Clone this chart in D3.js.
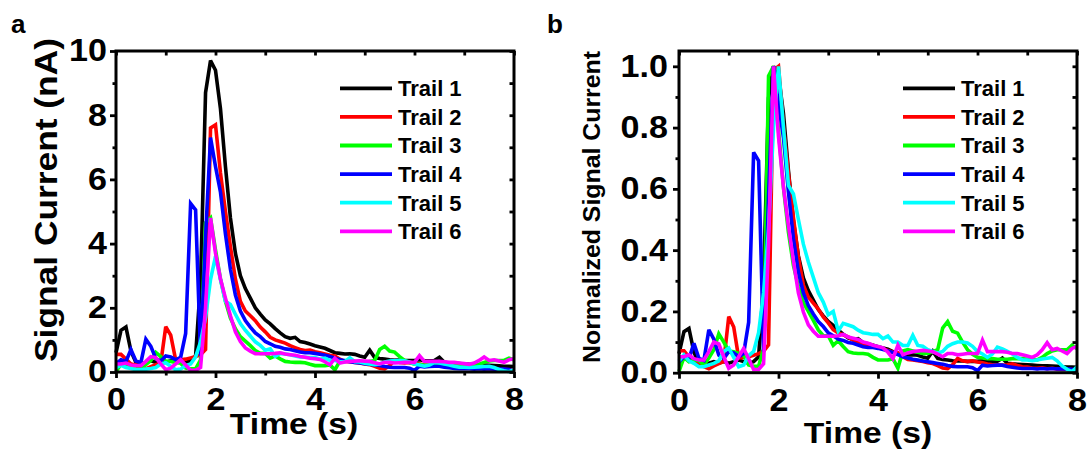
<!DOCTYPE html>
<html>
<head>
<meta charset="utf-8">
<script src="https://cdn.jsdelivr.net/npm/d3@7"></script>
<style>
  body { margin: 0; background: #fff; }
  svg { display: block; }
  text { font-family: "Liberation Sans", Arial, sans-serif; font-weight: bold; fill: #000; }
</style>
</head>
<body>
<svg id="chart" width="1089" height="452"></svg>
<script>
// Sample times (s)
const time = [0,0.1,0.2,0.3,0.4,0.5,0.6,0.7,0.8,0.9,1,1.1,1.2,1.3,1.4,1.5,1.6,1.7,1.8,1.9,
  2,2.1,2.2,2.3,2.4,2.5,2.6,2.7,2.8,2.9,3,3.1,3.2,3.3,3.4,3.5,3.6,3.7,3.8,3.9,
  4,4.1,4.2,4.3,4.4,4.5,4.6,4.7,4.8,4.9,5,5.1,5.2,5.3,5.4,5.5,5.6,5.7,5.8,5.9,
  6,6.1,6.2,6.3,6.4,6.5,6.6,6.7,6.8,6.9,7,7.1,7.2,7.3,7.4,7.5,7.6,7.7,7.8,7.9,8];

// Signal current of each trail (nA)
const trail1 = [0.6,1.3,1.4,0.65,0.3,0.25,0.3,0.35,0.3,0.35,
  0.3,0.35,0.4,0.35,0.3,0.35,0.5,2.8,8.7,9.7,
  9.4,8.2,6.4,4.8,3.7,3.0,2.6,2.3,2.0,1.8,
  1.62,1.5,1.35,1.22,1.1,1.05,1.08,0.95,0.92,0.87,
  0.82,0.78,0.74,0.67,0.6,0.58,0.56,0.57,0.55,0.5,
  0.46,0.68,0.45,0.42,0.4,0.38,0.37,0.37,0.36,0.36,
  0.36,0.38,0.35,0.35,0.36,0.46,0.3,0.28,0.27,0.26,
  0.25,0.24,0.23,0.22,0.22,0.21,0.2,0.19,0.18,0.18,0.17];
const trail2 = [0.55,0.55,0.4,0.25,0.22,0.15,0.1,0.17,0.23,0.28,
  1.41,1.15,0.37,0.38,0.4,0.44,0.48,0.54,0.7,7.6,
  7.7,6.2,5.0,3.9,2.9,2.2,1.9,1.75,1.6,1.4,
  1.25,1.08,1.0,0.95,0.9,0.82,0.76,0.7,0.67,0.68,
  0.63,0.6,0.56,0.52,0.5,0.4,0.33,0.32,0.3,0.28,
  0.25,0.23,0.18,0.12,0.1,0.2,0.36,0.3,0.28,0.3,
  0.27,0.25,0.22,0.2,0.2,0.19,0.2,0.22,0.18,0.15,
  0.14,0.12,0.11,0.12,0.1,0.11,0.09,0.08,0.08,0.07,0.07];
const trail3 = [0.02,0.24,0.17,0.19,0.19,0.12,0.23,0.36,0.61,0.48,
  0.34,0.33,0.3,0.27,0.12,0.1,0.1,0.38,4.65,4.8,
  3.8,2.9,2.2,1.68,1.35,1.1,0.96,0.82,0.67,0.58,
  0.58,0.43,0.5,0.41,0.33,0.31,0.3,0.3,0.29,0.24,
  0.2,0.2,0.2,0.22,0.07,0.34,0.36,0.34,0.32,0.3,
  0.3,0.33,0.36,0.7,0.8,0.65,0.62,0.48,0.36,0.29,
  0.24,0.23,0.22,0.22,0.21,0.21,0.21,0.22,0.22,0.22,
  0.21,0.21,0.2,0.24,0.3,0.34,0.36,0.36,0.36,0.43,0.38];
const trail4 = [0.26,0.38,0.33,0.7,0.34,0.29,1.02,0.8,0.42,0.34,
  0.5,0.47,0.38,0.46,1.2,5.25,5.05,0.5,4.2,7.3,
  6.4,5.6,4.3,3.2,2.4,1.9,1.6,1.4,1.22,1.1,
  0.95,0.88,0.8,0.77,0.72,0.7,0.66,0.62,0.6,0.6,
  0.58,0.55,0.52,0.48,0.43,0.38,0.35,0.32,0.3,0.28,
  0.26,0.24,0.22,0.2,0.17,0.15,0.14,0.14,0.14,0.12,
  0.05,0.18,0.16,0.17,0.18,0.18,0.15,0.13,0.11,0.1,
  0.1,0.1,0.09,0.1,0.09,0.1,0.09,0.09,0.09,0.08,0.02];
const trail5 = [0.14,0.21,0.14,0.11,0.07,0.07,0.09,0.11,0.14,0.25,
  0.29,0.18,0.07,0.09,0.2,0.25,0.47,0.94,1.69,2.88,
  3.6,2.88,2.2,2.1,1.8,1.51,1.3,1.12,0.94,0.83,
  0.68,0.72,0.49,0.58,0.56,0.54,0.5,0.47,0.46,0.45,
  0.45,0.4,0.43,0.36,0.36,0.32,0.32,0.44,0.32,0.31,
  0.27,0.25,0.23,0.25,0.31,0.34,0.36,0.36,0.35,0.31,
  0.25,0.22,0.18,0.22,0.3,0.28,0.25,0.22,0.18,0.15,
  0.15,0.14,0.15,0.16,0.17,0.18,0.14,0.08,0.04,0.01,0.07];
const trail6 = [0.25,0.25,0.28,0.22,0.2,0.2,0.33,0.48,0.45,0.25,
  0.07,0.12,0.25,0.38,0.22,0.05,0.05,0.14,2.0,4.8,
  3.7,2.9,2.3,1.75,1.25,0.95,0.75,0.65,0.57,0.57,
  0.57,0.57,0.58,0.6,0.56,0.54,0.52,0.48,0.46,0.43,
  0.41,0.39,0.32,0.22,0.43,0.28,0.31,0.33,0.34,0.35,
  0.34,0.33,0.29,0.25,0.3,0.3,0.28,0.29,0.3,0.3,
  0.3,0.51,0.33,0.33,0.33,0.33,0.32,0.3,0.3,0.28,
  0.26,0.24,0.28,0.36,0.47,0.36,0.38,0.34,0.3,0.38,0.41];

const trailNames = ["Trail 1", "Trail 2", "Trail 3", "Trail 4", "Trail 5", "Trail 6"];
const trailColors = ["#000000", "#ff0000", "#00ff00", "#0000ff", "#00ffff", "#ff00ff"];

const xMajorTicks = [0, 2, 4, 6, 8];
const xMinorTicks = [1, 3, 5, 7];
const yMajorTicksA = [0, 2, 4, 6, 8, 10];
const yMinorTicksA = [1, 3, 5, 7, 9];
const yMajorTicksB = [0, 0.2, 0.4, 0.6, 0.8, 1.0];
const yMinorTicksB = [0.1, 0.3, 0.5, 0.7, 0.9];

const trails = [trail1, trail2, trail3, trail4, trail5, trail6];
// Each trail scaled by its own maximum for the normalized panel
const normalized = trails.map(s => { const m = d3.max(s); return s.map(v => v / m); });

const svg = d3.select("#chart");

// Stretch text horizontally to the wide bold face used on the axes
function widen(sel, f) {
  sel.each(function () {
    const w = this.getComputedTextLength();
    d3.select(this).attr("textLength", w * f).attr("lengthAdjust", "spacingAndGlyphs");
  });
}

function drawPanel(p) {
  const g = svg.append("g");
  const x = d3.scaleLinear().domain([0, 8]).range([p.left, p.right]);
  const y = d3.scaleLinear().domain(p.yDomain).range([p.bottom, p.top]);

  const line = d3.line().x(d => x(d[0])).y(d => y(d[1]));
  p.series.forEach((s, i) => {
    g.append("path")
      .datum(time.map((t, k) => [t, s[k]]))
      .attr("d", line)
      .attr("fill", "none")
      .attr("stroke", trailColors[i])
      .attr("stroke-width", 3.6)
      .attr("stroke-linejoin", "miter")
      .attr("stroke-miterlimit", 3);
  });

  const tickStyle = a => {
    a.select(".domain").remove();
    a.selectAll(".tick line").attr("stroke", "#000").attr("stroke-width", 2.8);
  };

  // bottom axis: outward ticks with labels
  g.append("g").attr("transform", `translate(0,${p.bottom})`)
    .call(d3.axisBottom(x).tickValues(xMajorTicks).tickSize(6).tickPadding(10).tickFormat(d3.format("d")))
    .call(tickStyle)
    .call(a => a.selectAll("text").style("font-size", "31px").attr("font-family", null));
  g.append("g").attr("transform", `translate(0,${p.bottom})`)
    .call(d3.axisBottom(x).tickValues(xMinorTicks).tickSize(3.5).tickFormat(""))
    .call(tickStyle);
  // top axis: mirrored inward ticks
  g.append("g").attr("transform", `translate(0,${p.top})`)
    .call(d3.axisBottom(x).tickValues(xMajorTicks.concat(xMinorTicks)).tickSize(4.5).tickFormat(""))
    .call(tickStyle);

  // left axis: outward ticks with labels
  g.append("g").attr("transform", `translate(${p.left},0)`)
    .call(d3.axisLeft(y).tickValues(p.yMajor).tickSize(6).tickPadding(p.yPad).tickFormat(p.yFormat))
    .call(tickStyle)
    .call(a => a.selectAll("text").style("font-size", "31px").attr("font-family", null));
  g.append("g").attr("transform", `translate(${p.left},0)`)
    .call(d3.axisLeft(y).tickValues(p.yMinor).tickSize(3.5).tickFormat(""))
    .call(tickStyle);
  // right axis: mirrored inward ticks
  g.append("g").attr("transform", `translate(${p.right},0)`)
    .call(d3.axisLeft(y).tickValues(p.yMajor.concat(p.yMinor)).tickSize(4.5).tickFormat(""))
    .call(tickStyle);

  g.selectAll(".tick text").call(widen, 1.1);

  // frame
  g.append("rect")
    .attr("x", p.left).attr("y", p.top)
    .attr("width", p.right - p.left).attr("height", p.bottom - p.top)
    .attr("fill", "none").attr("stroke", "#000").attr("stroke-width", 3);

  // legend
  const lg = g.append("g");
  trailNames.forEach((name, i) => {
    const yy = p.legendTop + i * 28.6;
    lg.append("line")
      .attr("x1", p.legendX).attr("x2", p.legendX + 52)
      .attr("y1", yy).attr("y2", yy)
      .attr("stroke", trailColors[i]).attr("stroke-width", 3.8);
    lg.append("text")
      .attr("x", p.legendX + 58).attr("y", yy).attr("dy", "0.36em")
      .style("font-size", "22px").text(name);
  });

  // axis titles
  g.append("text")
    .attr("x", p.xTitleX).attr("y", p.xTitleY)
    .attr("text-anchor", "middle").style("font-size", "30px")
    .text("Time (s)")
    .call(widen, p.xTitleStretch);
  g.append("text")
    .attr("transform", `translate(${p.yTitleX},${p.yTitleY}) rotate(-90)`)
    .attr("text-anchor", "middle").style("font-size", p.yTitleSize + "px")
    .text(p.yTitle)
    .call(widen, p.yTitleStretch);

  // panel letter
  g.append("text")
    .attr("x", p.letterX).attr("y", 33)
    .style("font-size", "26px")
    .text(p.letter);
}

drawPanel({
  letter: "a", letterX: 11,
  left: 116, right: 514, top: 51, bottom: 372,
  yDomain: [0, 10], yMajor: yMajorTicksA, yMinor: yMinorTicksA, yPad: 3,
  yFormat: d3.format("d"),
  series: trails,
  legendX: 340, legendTop: 88.3,
  xTitleX: 294, xTitleY: 434, xTitleStretch: 1.12,
  yTitle: "Signal Current (nA)", yTitleX: 57, yTitleY: 200, yTitleSize: 31, yTitleStretch: 1.14
});

drawPanel({
  letter: "b", letterX: 547,
  left: 679, right: 1077, top: 51, bottom: 372.7,
  yDomain: [0, 1.05], yMajor: yMajorTicksB, yMinor: yMinorTicksB, yPad: 5,
  yFormat: d3.format(".1f"),
  series: normalized,
  legendX: 903, legendTop: 88.3,
  xTitleX: 868, xTitleY: 443, xTitleStretch: 1.12,
  yTitle: "Normalized Signal Current", yTitleX: 600, yTitleY: 207, yTitleSize: 23, yTitleStretch: 1.08
});
</script>
</body>
</html>
